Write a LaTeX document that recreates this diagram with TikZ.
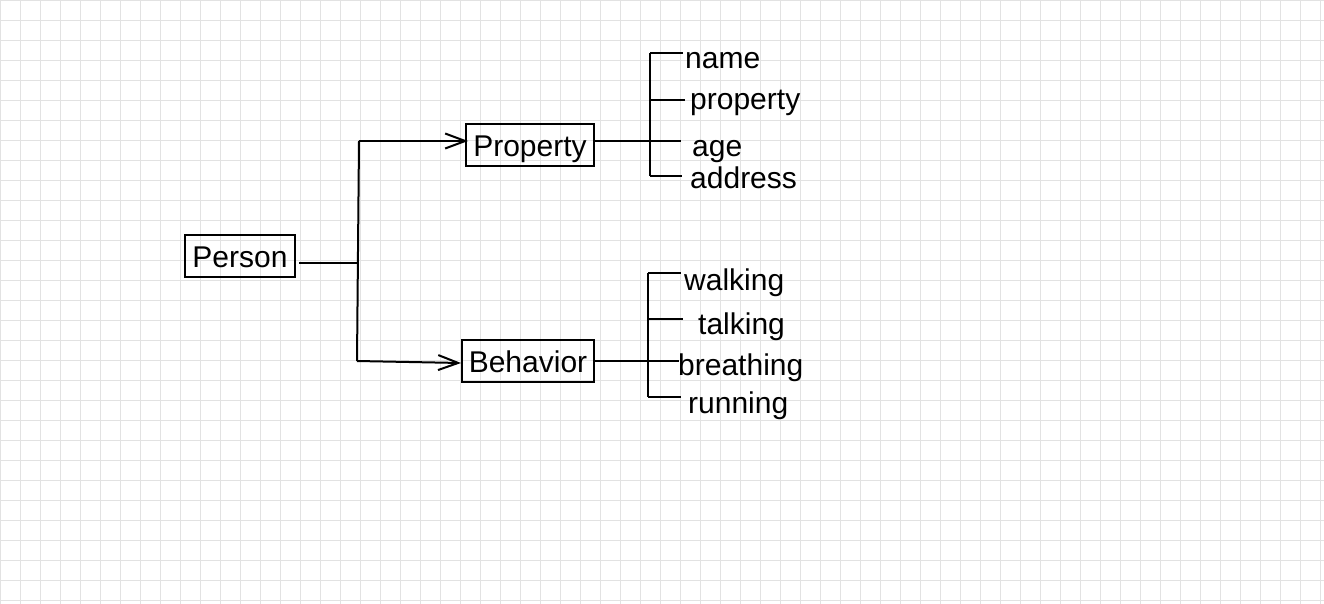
\documentclass[tikz,border=0pt]{standalone}
\usepackage{fontspec}
\setmainfont{Liberation Sans}
\usetikzlibrary{arrows.meta}
\definecolor{gridc}{HTML}{E2E2E2}
\begin{document}
\begin{tikzpicture}[x=1pt,y=-1pt,
  conn/.style={line width=2pt, black},
  arr/.style={conn, -{Straight Barb[length=20pt,width=15pt,line width=2pt]}},
  box/.style={draw, line width=2pt, inner sep=0pt, text height=23.5pt, text depth=0pt,
    minimum height=42pt, font=\fontsize{30}{33}\selectfont},
  lbl/.style={anchor=base west, inner sep=0pt, font=\fontsize{30}{33}\selectfont}]
\fill[white] (0,0) rectangle (1324,604);
\useasboundingbox (0,0) rectangle (1324,604);
\foreach \i in {0,20,...,1320} \draw[gridc, line width=1pt] (\i+0.5,0) -- (\i+0.5,604);
\foreach \j in {0,20,...,600} \draw[gridc, line width=1pt] (0,\j+0.5) -- (1324,\j+0.5);

% boxes
\node[box, minimum width=110pt] (person) at (240,256) {Person};
\node[box, minimum width=128pt] (prop) at (530,145) {Property};
\node[box, minimum width=132pt] (beh) at (528,361) {Behavior};

% trunk from Person
\coordinate (pj) at (357,263);
\coordinate (vt) at (359,141);
\coordinate (vb) at (357,361);
\draw[conn, shorten <=3pt] (person.east |- pj) -- (pj);
\draw[conn] (vt) -- (vb);
\draw[arr] (vt) -- ([xshift=3pt]prop.west |- vt);
\draw[arr] (vb) -- ([yshift=-2pt]beh.west);

% property bracket
\coordinate (ua) at (650,53);
\coordinate (ub) at (650,100);
\coordinate (uc) at (650,141);
\coordinate (ud) at (650,176);
\coordinate (uae) at (683,53);
\coordinate (ube) at (685,100);
\coordinate (uce) at (681,141);
\coordinate (ude) at (682,176);
\draw[conn] (prop.east |- uc) -- (uce);
\draw[conn] (ua) -- (ud);
\draw[conn] (ua) -- (uae);
\draw[conn] (ub) -- (ube);
\draw[conn] (ud) -- (ude);
\node[lbl] (name) at (685,69) {name};
\node[lbl] (propl) at (690,110) {property};
\node[lbl] (age) at (692,157) {age};
\node[lbl] (address) at (690,189) {address};

% behavior bracket
\coordinate (la) at (648,273);
\coordinate (lb) at (648,319);
\coordinate (lc) at (648,361);
\coordinate (ld) at (648,397);
\coordinate (lae) at (681,273);
\coordinate (lbe) at (683,319);
\coordinate (lce) at (679,361);
\coordinate (lde) at (681,397);
\draw[conn] (beh.east |- lc) -- (lce);
\draw[conn] (la) -- (ld);
\draw[conn] (la) -- (lae);
\draw[conn] (lb) -- (lbe);
\draw[conn] (ld) -- (lde);
\node[lbl] (walking) at (684,290) {walking};
\node[lbl] (talking) at (698,334) {talking};
\node[lbl] (breathing) at (678,375) {breathing};
\node[lbl] (running) at (688,413) {running};
\end{tikzpicture}
\end{document}
